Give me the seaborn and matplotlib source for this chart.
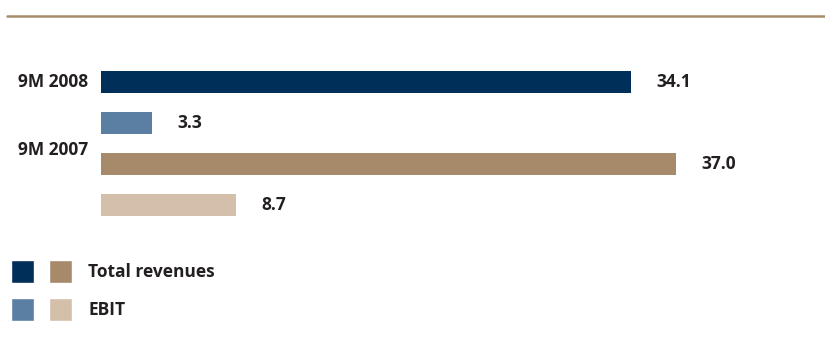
import pandas as pd
import matplotlib.pyplot as plt
import seaborn as sns
from matplotlib.lines import Line2D
from matplotlib.patches import Patch
from matplotlib.legend_handler import HandlerTuple

# Data
rows = ["Revenues 9M 2008", "EBIT 9M 2008", "Revenues 9M 2007", "EBIT 9M 2007"]
values = [34.1, 3.3, 37.0, 8.7]
colors = ["#00305a", "#5a7fa3", "#a68a6a", "#d4bfaa"]
periods = ["9M 2008", "9M 2007"]
period_pos = [0.0, 1.65]
legend_labels = ["Total revenues", "EBIT"]

TEXT = "#231f20"
FONT = ["Open Sans", "DejaVu Sans"]

df = pd.DataFrame({"row": rows, "value": values})

sns.set_style("white")
plt.rcParams["font.family"] = FONT

fig = plt.figure(figsize=(8.25, 3.63), dpi=100)

# Axes placed so bars start at x=101px, 15.54 px per unit
ax = fig.add_axes([101 / 825, 137.5 / 363, 724 / 825, 164 / 363])

sns.barplot(
    data=df, x="value", y="row", hue="row", palette=colors,
    width=0.54, legend=False, ax=ax, saturation=1, edgecolor="none",
)

ax.set_xlim(0, 724 / 15.54)
ax.set_ylim(3.5, -0.5)

# Value labels to the right of each bar
for container in ax.containers:
    for t in ax.bar_label(container, fmt="%.1f", padding=18, fontsize=12.5,
                          fontweight="bold", color=TEXT, family=FONT):
        t.set_y(t.get_position()[1] + 0.05)

# Period labels on the left
for label, pos in zip(periods, period_pos):
    ax.annotate(label, xy=(0, pos), xytext=(-9, 0), textcoords="offset points",
                ha="right", va="center", fontsize=12.5, fontweight="bold",
                color=TEXT, family=FONT)

ax.set_xlabel("")
ax.set_ylabel("")
ax.set_xticks([])
ax.set_yticks([])
for side in ["top", "right", "left", "bottom"]:
    ax.spines[side].set_visible(False)

# Top rule
fig.add_artist(Line2D([7 / 825, 1], [1 - 15.5 / 363] * 2, color="#a68a6a",
                      linewidth=1.8, transform=fig.transFigure))

# Legend: two squares per row (2008 and 2007 colours)
handles = [
    (Patch(facecolor=colors[0]), Patch(facecolor=colors[2])),
    (Patch(facecolor=colors[1]), Patch(facecolor=colors[3])),
]
fs = 12.5 * 100 / 72
hh = (23 / fs - 0.245) / 0.65  # legend shrinks the handle box by a descent term
fig.legend(
    handles, legend_labels,
    handler_map={tuple: HandlerTuple(ndivide=None, pad=15 / fs)},
    loc="upper left", bbox_to_anchor=(11 / 825, 1 - 260 / 363),
    frameon=False, borderpad=0, borderaxespad=0,
    handlelength=61 / fs, handleheight=hh, handletextpad=16 / fs,
    labelspacing=15 / fs,
    prop={"family": FONT, "weight": "bold", "size": 12.5},
    labelcolor=TEXT,
)

fig.savefig("out.png", dpi=100)
plt.close(fig)
